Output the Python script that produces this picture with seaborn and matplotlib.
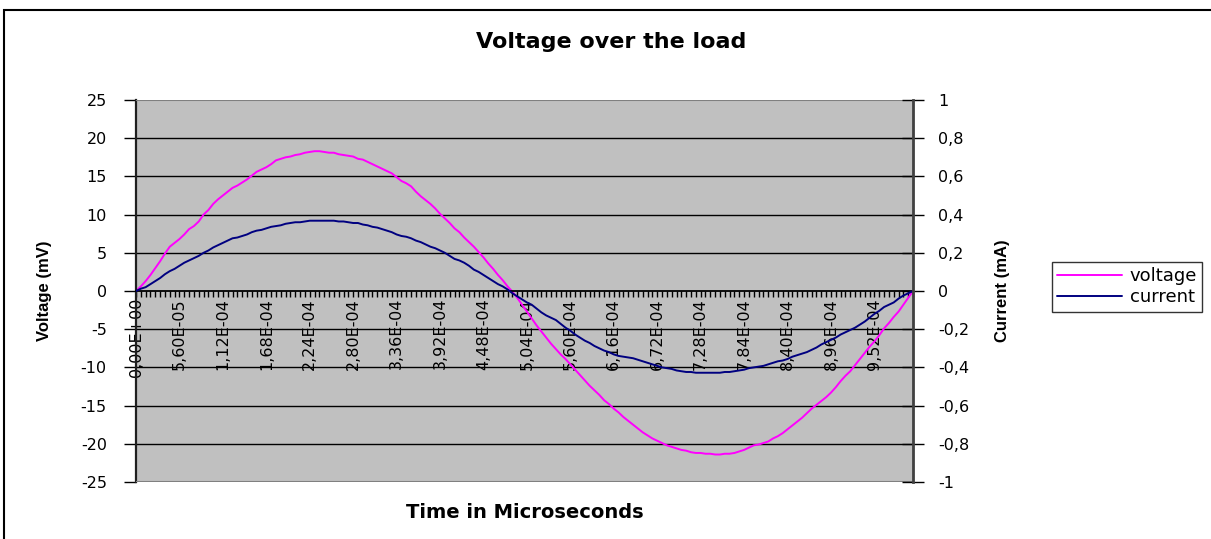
import numpy as np
import pandas as pd
import matplotlib
matplotlib.use("Agg")
import matplotlib.pyplot as plt
import seaborn as sns
from matplotlib.ticker import FixedLocator, FixedFormatter, FuncFormatter, MultipleLocator
from matplotlib.patches import Rectangle

# Load voltage (mV) and current (mA) sampled over one period
voltage_mv = [
    0.0, 0.6, 1.3, 2.1, 3.0, 3.9, 4.9, 5.8, 6.3, 6.8,
    7.4, 8.1, 8.5, 9.1, 10.0, 10.6, 11.4, 12.0, 12.5, 13.0,
    13.5, 13.8, 14.2, 14.6, 15.1, 15.6, 15.9, 16.2, 16.6, 17.1,
    17.3, 17.5, 17.6, 17.8, 17.9, 18.1, 18.2, 18.3, 18.3, 18.2,
    18.1, 18.1, 17.9, 17.8, 17.7, 17.6, 17.3, 17.2, 16.9, 16.6,
    16.3, 16.0, 15.7, 15.4, 14.9, 14.4, 14.1, 13.7, 13.0, 12.4,
    11.9, 11.4, 10.8, 10.1, 9.5, 8.9, 8.2, 7.7, 7.0, 6.4,
    5.8, 5.1, 4.4, 3.6, 2.9, 2.1, 1.4, 0.6, -0.1, -0.9,
    -1.8, -2.7, -3.6, -4.5, -5.3, -6.1, -6.9, -7.6, -8.3, -8.9,
    -9.6, -10.3, -11.0, -11.7, -12.4, -13.0, -13.6, -14.3, -14.8, -15.4,
    -15.9, -16.5, -17.0, -17.5, -18.0, -18.5, -18.9, -19.3, -19.6, -19.9,
    -20.2, -20.4, -20.6, -20.8, -20.9, -21.1, -21.2, -21.2, -21.3, -21.3,
    -21.4, -21.4, -21.3, -21.3, -21.2, -21.0, -20.8, -20.5, -20.2, -20.1,
    -19.9, -19.7, -19.3, -19.0, -18.6, -18.1, -17.6, -17.1, -16.6, -16.0,
    -15.4, -14.9, -14.4, -13.9, -13.3, -12.6, -11.8, -11.1, -10.5, -9.7,
    -8.9, -8.1, -7.3, -6.6, -5.8, -4.9, -4.2, -3.4, -2.7, -1.8,
    -0.9, 0.0,
]

current_ma = [
    0.000, 0.012, 0.020, 0.036, 0.052, 0.068, 0.088, 0.104, 0.116, 0.132,
    0.148, 0.160, 0.172, 0.184, 0.200, 0.212, 0.228, 0.240, 0.252, 0.264,
    0.276, 0.280, 0.288, 0.296, 0.308, 0.316, 0.320, 0.328, 0.336, 0.340,
    0.344, 0.352, 0.356, 0.360, 0.360, 0.364, 0.368, 0.368, 0.368, 0.368,
    0.368, 0.368, 0.364, 0.364, 0.360, 0.356, 0.356, 0.348, 0.344, 0.336,
    0.332, 0.324, 0.316, 0.308, 0.296, 0.288, 0.284, 0.276, 0.264, 0.256,
    0.244, 0.232, 0.224, 0.212, 0.200, 0.184, 0.168, 0.160, 0.148, 0.132,
    0.112, 0.100, 0.084, 0.068, 0.052, 0.036, 0.024, 0.008, -0.012, -0.028,
    -0.044, -0.060, -0.072, -0.092, -0.112, -0.128, -0.140, -0.152, -0.172, -0.192,
    -0.208, -0.228, -0.244, -0.260, -0.272, -0.288, -0.300, -0.312, -0.320, -0.332,
    -0.340, -0.344, -0.348, -0.352, -0.360, -0.368, -0.376, -0.384, -0.392, -0.400,
    -0.404, -0.408, -0.416, -0.420, -0.424, -0.424, -0.428, -0.428, -0.428, -0.428,
    -0.428, -0.428, -0.424, -0.424, -0.420, -0.416, -0.412, -0.404, -0.400, -0.396,
    -0.392, -0.384, -0.376, -0.368, -0.364, -0.356, -0.344, -0.336, -0.328, -0.320,
    -0.308, -0.296, -0.280, -0.268, -0.256, -0.244, -0.228, -0.216, -0.204, -0.192,
    -0.176, -0.160, -0.140, -0.120, -0.104, -0.084, -0.072, -0.060, -0.040, -0.024,
    -0.012, 0.000,
]

# Category labels shown on the time axis (one every nine samples)
time_labels = [
    "0,00E+00", "5,60E-05", "1,12E-04", "1,68E-04", "2,24E-04", "2,80E-04",
    "3,36E-04", "3,92E-04", "4,48E-04", "5,04E-04", "5,60E-04", "6,16E-04",
    "6,72E-04", "7,28E-04", "7,84E-04", "8,40E-04", "8,96E-04", "9,52E-04",
]
label_every = 9

sns.set_theme(style="white")
plt.rcParams["font.family"] = ["DejaVu Sans"]
plt.rcParams["axes.unicode_minus"] = False
plt.rcParams["text.color"] = "black"
plt.rcParams["xtick.color"] = "black"
plt.rcParams["ytick.color"] = "black"
plt.rcParams["xtick.labelcolor"] = "black"
plt.rcParams["ytick.labelcolor"] = "black"

df = pd.DataFrame({
    "sample": np.arange(len(voltage_mv)),
    "voltage": voltage_mv,
    "current": current_ma,
})

W, H = 1211, 539
fig = plt.figure(figsize=(W / 100, H / 100), dpi=100)
fig.patch.set_facecolor("white")

# Chart border (runs off the right and bottom edges)
fig.add_artist(Rectangle((4 / W, -0.1), 1.2, 1.1 - 10 / H, transform=fig.transFigure,
                         fill=False, edgecolor="black", linewidth=1.5))

ax = fig.add_axes([136 / W, 57 / H, 777 / W, 382 / H])
ax.set_facecolor("#C0C0C0")
ax2 = ax.twinx()

sns.lineplot(data=df, x="sample", y="voltage", ax=ax, color="#FF00FF",
             linewidth=1.4, label="voltage", legend=False)
sns.lineplot(data=df, x="sample", y="current", ax=ax2, color="#000080",
             linewidth=1.4, label="current", legend=False)

n = len(voltage_mv)
ax.set_xlim(0, n - 1)
ax.set_ylim(-25, 25)
ax2.set_ylim(-1, 1)

# Horizontal gridlines
ax.yaxis.set_major_locator(MultipleLocator(5))
ax2.yaxis.set_major_locator(MultipleLocator(0.2))
for v in np.arange(-20, 25, 5):
    if v != 0:
        ax.axhline(v, color="black", linewidth=1.0, zorder=0.5)

# Category axis drawn at zero, with a tick at every sample
ax.spines["bottom"].set_position(("data", 0))
ax.spines["bottom"].set_color("black")
ax.spines["bottom"].set_linewidth(1.3)
ax.spines["bottom"].set_zorder(3)
ticks = np.arange(n)
labels = [""] * n
for k, lab in enumerate(time_labels):
    labels[k * label_every] = lab
ax.xaxis.set_major_locator(FixedLocator(ticks))
ax.xaxis.set_major_formatter(FixedFormatter(labels))
ax.tick_params(axis="x", direction="out", length=4, width=1, color="black",
               pad=1, labelsize=11.5, labelrotation=90, bottom=True)

# Frame of the plot area
ax.axhline(25, color="#808080", linewidth=1.5, zorder=4)
ax.axhline(-25, color="#808080", linewidth=1.5, zorder=4)
for a in (ax, ax2):
    a.spines["top"].set_visible(False)
ax.spines["left"].set_color("#202020")
ax.spines["left"].set_linewidth(1.6)
ax.spines["right"].set_visible(False)
ax2.spines["left"].set_visible(False)
ax2.spines["bottom"].set_visible(False)
ax2.spines["right"].set_color("#404040")
ax2.spines["right"].set_linewidth(2)

ax.tick_params(axis="y", direction="out", length=9, width=1, color="black",
               pad=12, labelsize=11.5, left=True)
ax2.tick_params(axis="y", direction="inout", length=16, width=1, color="black",
                pad=10, labelsize=11.5, right=True)
ax.yaxis.set_major_formatter(FuncFormatter(lambda v, p: f"{round(v, 1):g}"))
ax2.yaxis.set_major_formatter(
    FuncFormatter(lambda v, p: f"{round(v, 2) + 0.0:g}".replace(".", ",")))

ax.set_xlabel("")
ax.set_ylabel("")
ax2.set_ylabel("")
ax.grid(False)
ax2.grid(False)

# Titles
fig.text(611 / W, 1 - 42 / H, "Voltage over the load", ha="center", va="center",
         fontsize=16, fontweight="bold")
fig.text(525 / W, 1 - 512 / H, "Time in Microseconds", ha="center", va="center",
         fontsize=14, fontweight="bold")
fig.text(45 / W, 1 - 291 / H, "Voltage (mV)", ha="center", va="center", rotation=90,
         fontsize=12, fontweight="bold", family="Liberation Sans")
fig.text(1002 / W, 1 - 291 / H, "Current (mA)", ha="center", va="center", rotation=90,
         fontsize=12, fontweight="bold", family="Liberation Sans")

h1, l1 = ax.get_legend_handles_labels()
h2, l2 = ax2.get_legend_handles_labels()
leg = fig.legend(h1 + h2, l1 + l2, loc="upper left",
                 bbox_to_anchor=(1052 / W, 1 - 262 / H), borderaxespad=0,
                 fontsize=13, frameon=True, fancybox=False, shadow=False,
                 handlelength=3.6, handletextpad=0.4, borderpad=0.3,
                 labelspacing=0.15)
leg.get_frame().set_edgecolor("black")
leg.get_frame().set_linewidth(1)

fig.savefig("out.png", dpi=100)
